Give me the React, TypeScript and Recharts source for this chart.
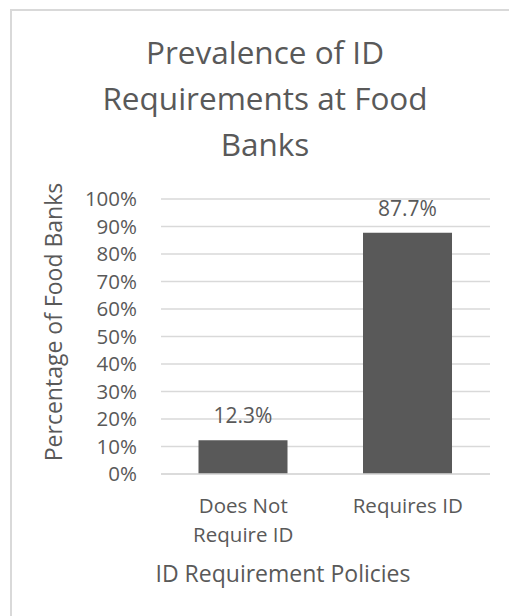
import React from 'react';
import { BarChart, Bar, XAxis, YAxis, CartesianGrid, LabelList, Text } from 'recharts';

const categories = ['Does Not Require ID', 'Requires ID'];
const percentages = [12.3, 87.7];
const yTicks = [0, 10, 20, 30, 40, 50, 60, 70, 80, 90, 100];
const titleLines = ['Prevalence of ID', 'Requirements at Food', 'Banks'];
const xTitle = 'ID Requirement Policies';
const yTitle = 'Percentage of Food Banks';

const data = categories.map((name, i) => ({ name, value: percentages[i] }));

const FONT = '"Open Sans", sans-serif';
const TEXT = '#595959';
const GRID = '#d9d9d9';
const BAR = '#595959';

const W = 509;
const H = 616;

const XTick = (props: any) => {
  const { x, y, payload } = props;
  return (
    <Text
      x={x}
      y={y + 24}
      width={112}
      textAnchor="middle"
      verticalAnchor="start"
      lineHeight={29}
      fill={TEXT}
      fontSize={20.5}
      fontFamily={FONT}
    >
      {payload.value}
    </Text>
  );
};

const BarLabel = (props: any) => {
  const { x, y, width, value } = props;
  return (
    <text
      x={x + width / 2}
      y={y - 17}
      textAnchor="middle"
      fill={TEXT}
      fontSize={21}
      fontFamily={FONT}
    >
      {`${Number(value).toFixed(1)}%`}
    </text>
  );
};

export default function App() {
  return (
    <div style={{ position: 'fixed', left: 0, top: 0, width: W, height: H, overflow: 'hidden', background: '#fff' }}>
      <div
        style={{
          position: 'absolute',
          left: 10,
          top: 9,
          width: 700,
          height: 800,
          border: `2px solid ${GRID}`,
          boxSizing: 'border-box',
        }}
      />
      <div style={{ position: 'absolute', left: 0, top: 0 }}>
        <BarChart
          width={W}
          height={H}
          data={data}
          margin={{ top: 199, right: 19, bottom: 32, left: 11 }}
          barCategoryGap="22.8%"
        >
          <CartesianGrid vertical={false} stroke={GRID} strokeWidth={1.5} />
          <XAxis
            dataKey="name"
            height={110}
            axisLine={{ stroke: GRID, strokeWidth: 1.5 }}
            tickLine={false}
            tickSize={0}
            tickMargin={0}
            interval={0}
            tick={<XTick />}
          />
          <YAxis
            width={150}
            domain={[0, 100]}
            ticks={yTicks}
            interval={0}
            axisLine={false}
            tickLine={false}
            tickSize={0}
            tickMargin={24}
            tickFormatter={(v: number) => `${v}%`}
            tick={{ fill: TEXT, fontSize: 20.5, fontFamily: FONT }}
          />
          <Bar dataKey="value" fill={BAR} isAnimationActive={false}>
            <LabelList dataKey="value" content={<BarLabel />} />
          </Bar>
        </BarChart>
      </div>
      <svg
        width={W}
        height={H}
        style={{ position: 'absolute', left: 0, top: 0, pointerEvents: 'none' }}
      >
        {titleLines.map((line, i) => (
          <text
            key={line}
            x={265}
            y={64 + i * 46}
            textAnchor="middle"
            fill={TEXT}
            fontSize={31.5}
            fontFamily={FONT}
          >
            {line}
          </text>
        ))}
        <text
          x={62}
          y={322}
          transform="rotate(-90, 62, 322)"
          textAnchor="middle"
          fill={TEXT}
          fontSize={23}
          fontFamily={FONT}
        >
          {yTitle}
        </text>
        <text x={283} y={582} textAnchor="middle" fill={TEXT} fontSize={23} fontFamily={FONT}>
          {xTitle}
        </text>
      </svg>
    </div>
  );
}
